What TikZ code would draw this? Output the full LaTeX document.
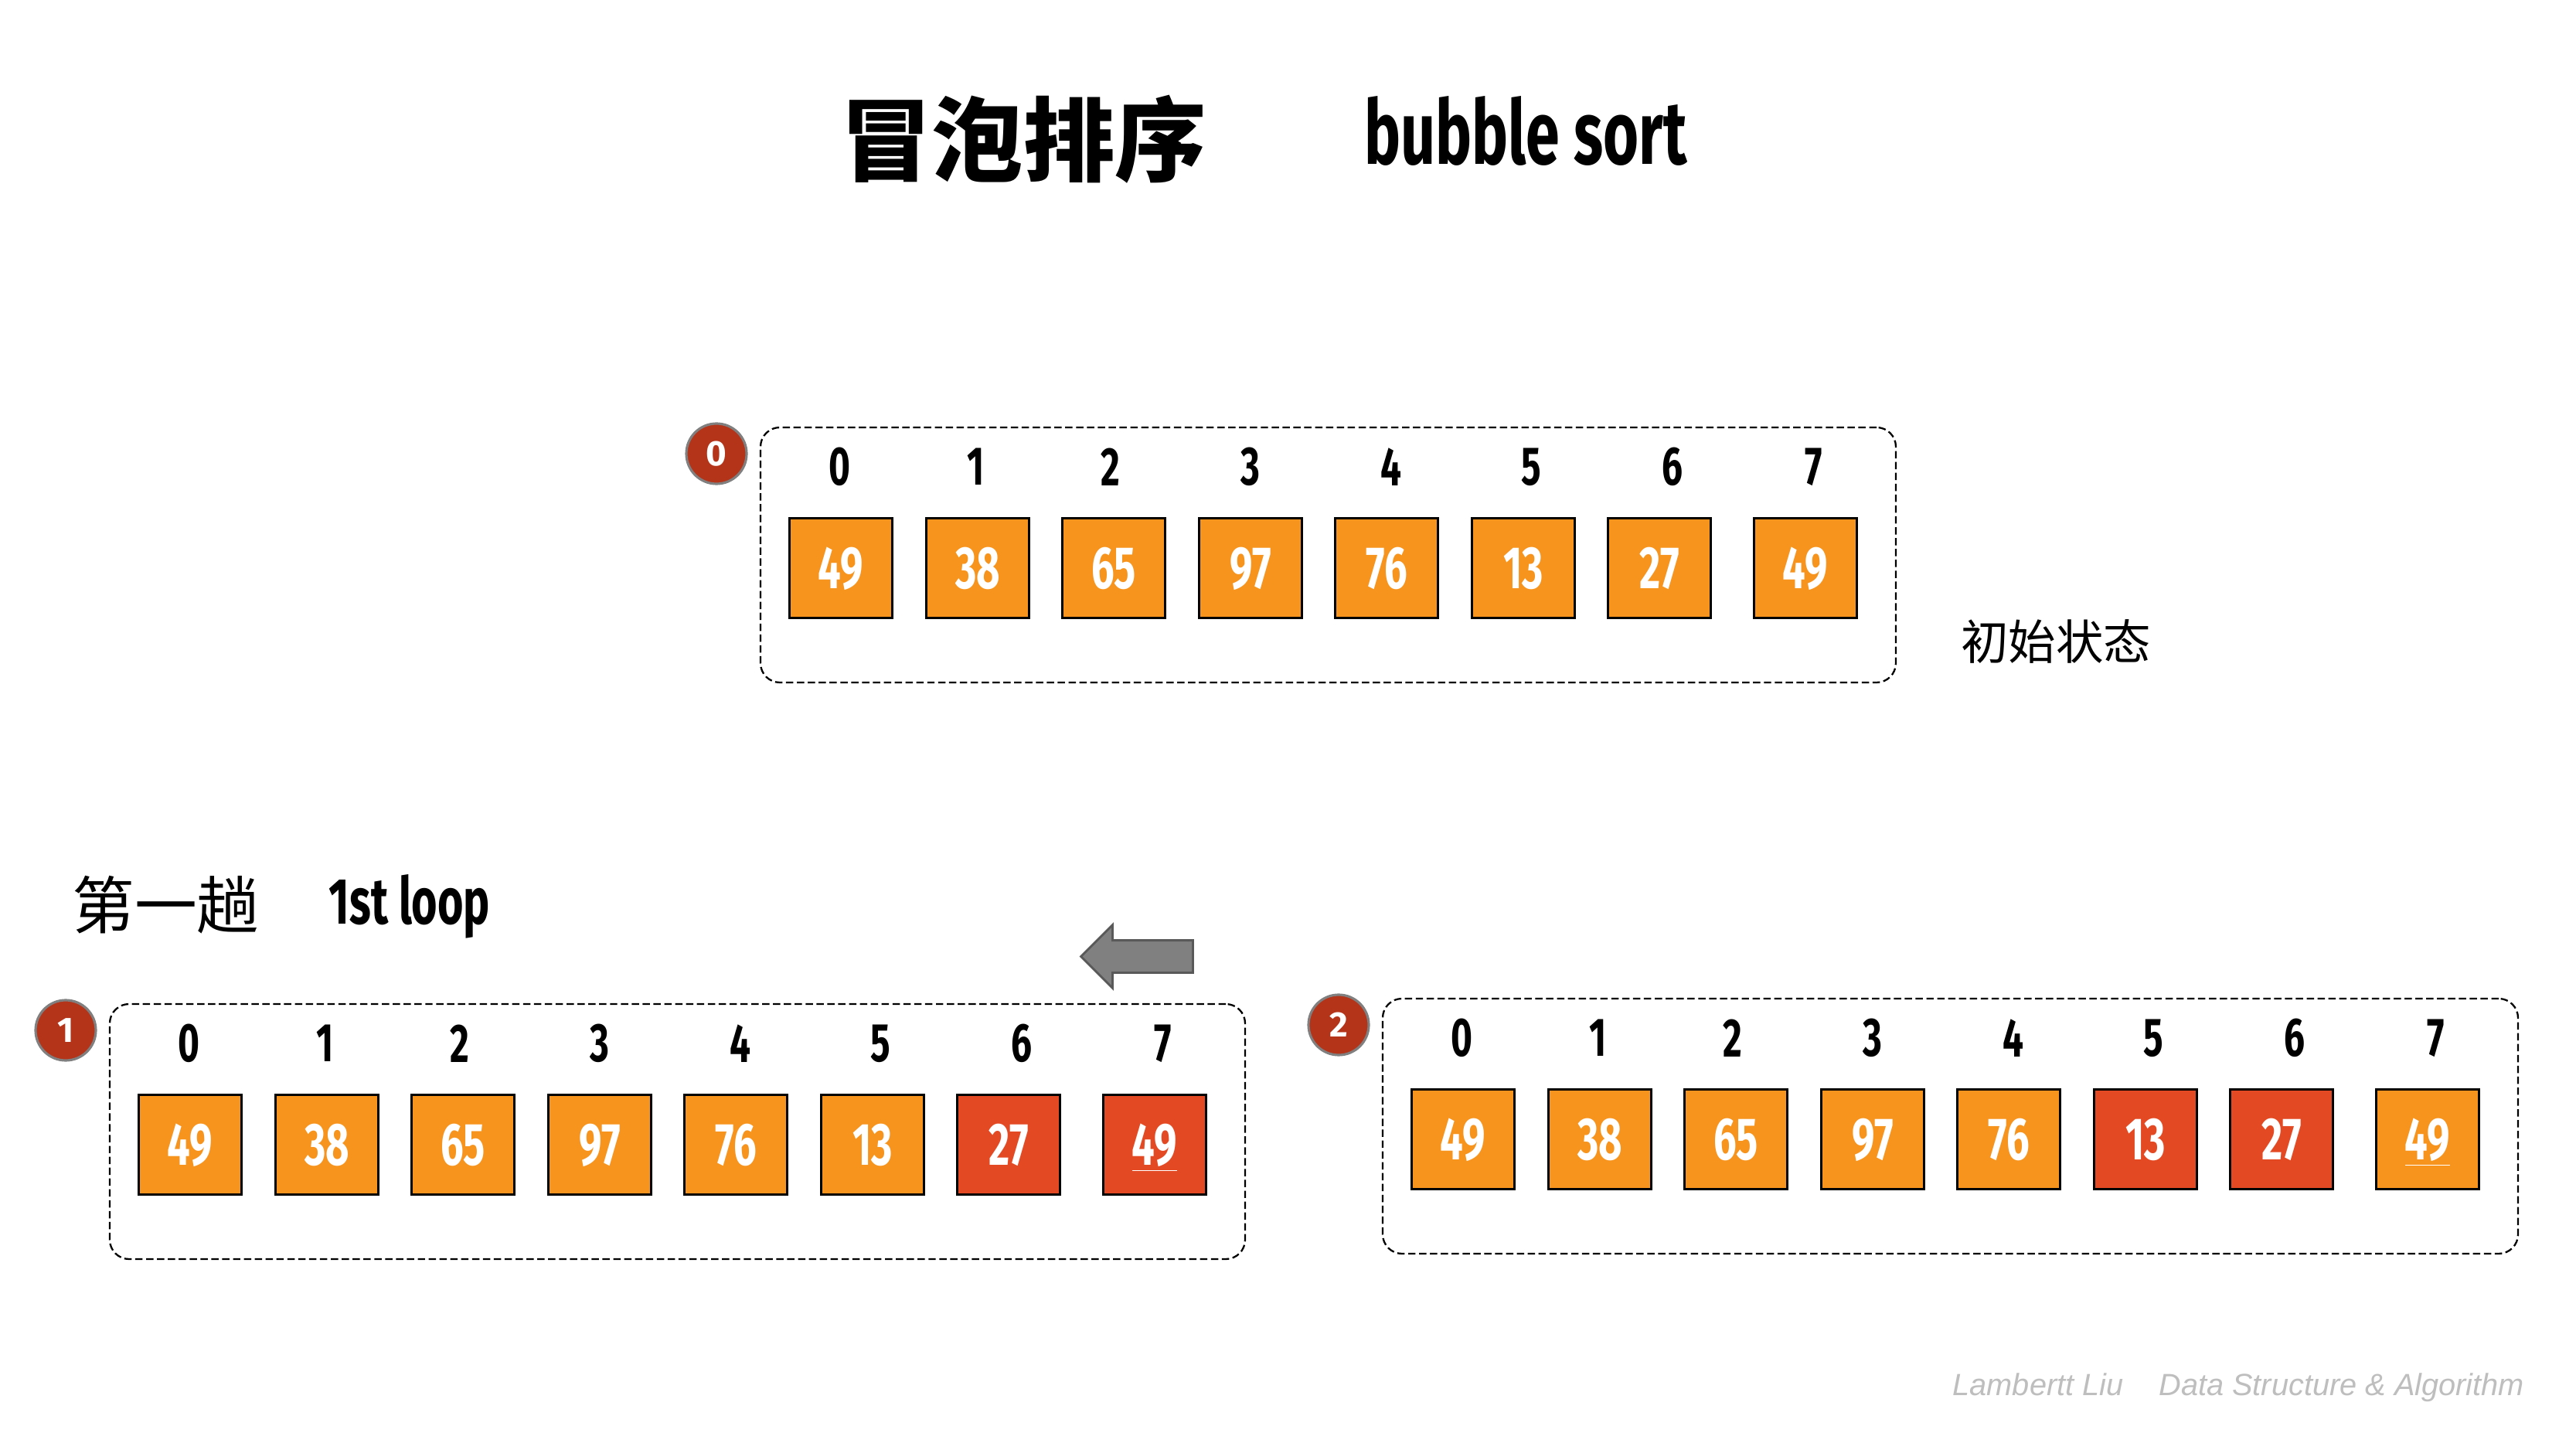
\documentclass[tikz,border=0pt]{standalone}
\usepackage{fontspec,xcolor}
\setmainfont{Liberation Sans}
\newfontfamily\cjk{Noto Sans CJK SC}
\newfontfamily\numfont[FakeStretch=0.68]{Fira Sans}
\newfontfamily\badgefont{Fira Sans}
\definecolor{sortorange}{RGB}{247,148,30}
\definecolor{sortred}{RGB}{227,74,36}
\definecolor{badgered}{RGB}{180,52,26}
\definecolor{badgerim}{RGB}{128,128,128}
\definecolor{arrowgray}{RGB}{128,128,128}
\definecolor{arrowrim}{RGB}{89,89,89}
\definecolor{creditgray}{RGB}{190,190,190}
\usetikzlibrary{shapes.arrows}

\begin{document}
\begin{tikzpicture}[
  cell/.style={draw=black, line width=0.85pt, minimum width=1.33cm, minimum height=1.29cm, inner sep=0pt, text=white, font=\numfont\bfseries\fontsize{22}{22}\selectfont, text height=15pt, text depth=0pt},
  cellorange/.style={cell, fill=sortorange},
  cellred/.style={cell, fill=sortred},
  idx/.style={inner sep=0pt, font=\numfont\bfseries\fontsize{20}{20}\selectfont},
  dashframe/.style={draw=black, dash pattern=on 2.7pt off 1.3pt, line width=0.65pt, rounded corners=0.25cm, minimum width=14.69cm, minimum height=3.30cm, inner sep=0pt},
  badge/.style={circle, draw=badgerim, line width=0.9pt, fill=badgered, minimum size=0.78cm, inner sep=0pt, text=white, font=\badgefont\bfseries\fontsize{13}{13}\selectfont}
]
  \path[use as bounding box, fill=white] (0,0) rectangle (33.33,18.75);

  \node[font=\cjk\bfseries\fontsize{33.7}{34}\selectfont, inner sep=0pt] (title) at (13.24,16.95) {冒泡排序};
  \node[font=\numfont\bfseries\fontsize{33}{33}\selectfont, inner sep=0pt, anchor=base] (titleen) at (19.74,16.62) {bubble sort};

  \node[dashframe] (frame0) at (17.185,11.57) {};
  \node[badge] (badge0) at (9.27,12.88) {0};
  \node[idx] (idx0-0) at (10.86,12.71) {0};
  \node[idx] (idx0-1) at (12.63,12.71) {1};
  \node[idx] (idx0-2) at (14.37,12.71) {2};
  \node[idx] (idx0-3) at (16.18,12.71) {3};
  \node[idx] (idx0-4) at (18.00,12.71) {4};
  \node[idx] (idx0-5) at (19.81,12.71) {5};
  \node[idx] (idx0-6) at (21.64,12.71) {6};
  \node[idx] (idx0-7) at (23.47,12.71) {7};
  \node[cellorange] (arr0-0) at (10.88,11.40) {49};
  \node[cellorange] (arr0-1) at (12.65,11.40) {38};
  \node[cellorange] (arr0-2) at (14.41,11.40) {65};
  \node[cellorange] (arr0-3) at (16.18,11.40) {97};
  \node[cellorange] (arr0-4) at (17.94,11.40) {76};
  \node[cellorange] (arr0-5) at (19.71,11.40) {13};
  \node[cellorange] (arr0-6) at (21.47,11.40) {27};
  \node[cellorange] (arr0-7) at (23.36,11.40) {49};
  \node[font=\cjk\fontsize{17.5}{18}\selectfont, inner sep=0pt] (initlabel) at (26.60,10.45) {初始状态};

  \node[font=\cjk\fontsize{23}{23}\selectfont, inner sep=0pt] (looptitle) at (2.145,7.04) {第一趟};
  \node[font=\numfont\bfseries\fontsize{24}{24}\selectfont, inner sep=0pt, anchor=base] (loopen) at (5.30,6.80) {1st loop};
  \node[single arrow, draw=arrowrim, fill=arrowgray, line width=0.8pt, inner sep=0pt, text height=0.39cm, text depth=0pt, minimum height=1.45cm, single arrow head extend=0.2cm, shape border rotate=180] (shiftarrow) at (14.815,6.375) {};

  \node[dashframe] (frame1) at (8.765,4.11) {};
  \node[badge] (badge1) at (0.85,5.42) {1};
  \node[idx] (idx1-0) at (2.44,5.25) {0};
  \node[idx] (idx1-1) at (4.21,5.25) {1};
  \node[idx] (idx1-2) at (5.95,5.25) {2};
  \node[idx] (idx1-3) at (7.76,5.25) {3};
  \node[idx] (idx1-4) at (9.58,5.25) {4};
  \node[idx] (idx1-5) at (11.39,5.25) {5};
  \node[idx] (idx1-6) at (13.22,5.25) {6};
  \node[idx] (idx1-7) at (15.05,5.25) {7};
  \node[cellorange] (arr1-0) at (2.46,3.94) {49};
  \node[cellorange] (arr1-1) at (4.23,3.94) {38};
  \node[cellorange] (arr1-2) at (5.99,3.94) {65};
  \node[cellorange] (arr1-3) at (7.76,3.94) {97};
  \node[cellorange] (arr1-4) at (9.52,3.94) {76};
  \node[cellorange] (arr1-5) at (11.29,3.94) {13};
  \node[cellred] (arr1-6) at (13.05,3.94) {27};
  \node[cellred] (arr1-7) at (14.94,3.94) {\underline{49}};

  \node[dashframe] (frame2) at (25.235,4.18) {};
  \node[badge] (badge2) at (17.32,5.49) {2};
  \node[idx] (idx2-0) at (18.91,5.32) {0};
  \node[idx] (idx2-1) at (20.68,5.32) {1};
  \node[idx] (idx2-2) at (22.42,5.32) {2};
  \node[idx] (idx2-3) at (24.23,5.32) {3};
  \node[idx] (idx2-4) at (26.05,5.32) {4};
  \node[idx] (idx2-5) at (27.86,5.32) {5};
  \node[idx] (idx2-6) at (29.69,5.32) {6};
  \node[idx] (idx2-7) at (31.52,5.32) {7};
  \node[cellorange] (arr2-0) at (18.93,4.01) {49};
  \node[cellorange] (arr2-1) at (20.70,4.01) {38};
  \node[cellorange] (arr2-2) at (22.46,4.01) {65};
  \node[cellorange] (arr2-3) at (24.23,4.01) {97};
  \node[cellorange] (arr2-4) at (25.99,4.01) {76};
  \node[cellred] (arr2-5) at (27.76,4.01) {13};
  \node[cellred] (arr2-6) at (29.52,4.01) {27};
  \node[cellorange] (arr2-7) at (31.41,4.01) {\underline{49}};

  \node[font=\itshape\fontsize{11.3}{12}\selectfont, text=creditgray, inner sep=0pt, anchor=base west] (credit) at (25.26,0.70) {Lambertt Liu\hspace{0.46cm}Data Structure \& Algorithm};
\end{tikzpicture}
\end{document}
